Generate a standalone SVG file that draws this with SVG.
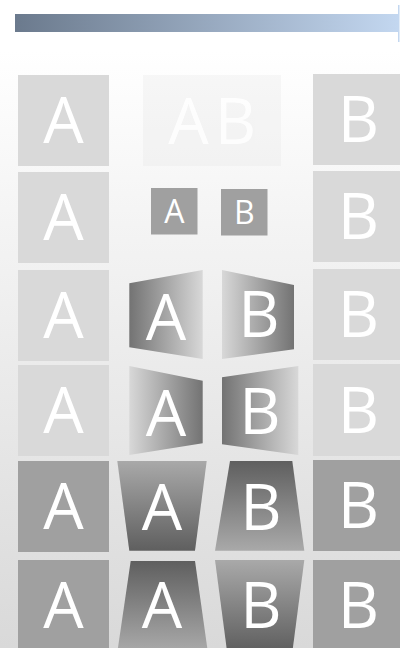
<svg xmlns="http://www.w3.org/2000/svg" width="400" height="648" viewBox="0 0 400 648">
<defs>
<linearGradient id="bg" x1="0" y1="0" x2="0" y2="1"><stop offset="0" stop-color="#ffffff"/><stop offset="0.08" stop-color="#ffffff"/><stop offset="1" stop-color="#d9d9d9"/></linearGradient>
<linearGradient id="bar" x1="0" y1="0" x2="1" y2="0"><stop offset="0" stop-color="#6b7a8d"/><stop offset="1" stop-color="#c3d7f0"/></linearGradient>
<linearGradient id="gLR" x1="0" y1="0" x2="1" y2="0"><stop offset="0" stop-color="#737373"/><stop offset="1" stop-color="#d8d8d8"/></linearGradient>
<linearGradient id="gRL" x1="0" y1="0" x2="1" y2="0"><stop offset="0" stop-color="#d8d8d8"/><stop offset="1" stop-color="#737373"/></linearGradient>
<linearGradient id="gTB" x1="0" y1="0" x2="0" y2="1"><stop offset="0" stop-color="#a9a9a9"/><stop offset="1" stop-color="#5f5f5f"/></linearGradient>
<linearGradient id="gBT" x1="0" y1="0" x2="0" y2="1"><stop offset="0" stop-color="#5f5f5f"/><stop offset="1" stop-color="#a9a9a9"/></linearGradient>
</defs>
<style>
.t{font-family:"Open Sans","Noto Sans","Liberation Sans",sans-serif;fill:#ffffff;text-anchor:middle;font-size:64px}
.s{font-size:32px}
.lt{fill:#d9d9d9}
.dk{fill:#a0a0a0}
</style>
<rect x="0" y="0" width="400" height="648" fill="url(#bg)"/>
<g id="title-bar">
<rect x="15" y="14" width="384" height="18" fill="url(#bar)"/>
<rect x="398" y="5" width="1.5" height="37" fill="#c3d7f0"/>
</g>
<g id="left-column">
<g id="A1"><rect class="lt" x="18" y="75" width="91" height="91"/><text class="t" x="63.5" y="143">A</text></g>
<g id="A2"><rect class="lt" x="18" y="172" width="91" height="91"/><text class="t" x="63.5" y="240">A</text></g>
<g id="A3"><rect class="lt" x="18" y="270" width="91" height="91"/><text class="t" x="63.5" y="338">A</text></g>
<g id="A4"><rect class="lt" x="18" y="365" width="91" height="91"/><text class="t" x="63.5" y="433">A</text></g>
<g id="A5"><rect class="dk" x="18" y="461" width="91" height="91"/><text class="t" x="63.5" y="529">A</text></g>
<g id="A6"><rect class="dk" x="18" y="560" width="91" height="91"/><text class="t" x="63.5" y="628">A</text></g>
</g>
<g id="right-column">
<g id="B1"><rect class="lt" x="313" y="74" width="91" height="91"/><text class="t" x="358.5" y="142">B</text></g>
<g id="B2"><rect class="lt" x="313" y="171" width="91" height="91"/><text class="t" x="358.5" y="239">B</text></g>
<g id="B3"><rect class="lt" x="313" y="269" width="91" height="91"/><text class="t" x="358.5" y="337">B</text></g>
<g id="B4"><rect class="lt" x="313" y="364" width="91" height="92"/><text class="t" x="358.5" y="433">B</text></g>
<g id="B5"><rect class="dk" x="313" y="460" width="91" height="91"/><text class="t" x="358.5" y="528">B</text></g>
<g id="B6"><rect class="dk" x="313" y="560" width="91" height="91"/><text class="t" x="358.5" y="628">B</text></g>
</g>
<g id="faded-AB" opacity="0.18">
<g id="fA"><rect class="lt" x="143" y="75" width="91" height="91"/></g>
<g id="fB"><rect class="lt" x="190" y="75" width="91" height="91"/></g>
</g>
<text class="t" x="188.5" y="144" opacity="0.9">A</text>
<text class="t" x="235.5" y="144" opacity="0.9">B</text>
<g id="small-A"><rect class="dk" x="151" y="188" width="46.5" height="46.5"/><text class="t s" x="174.3" y="223">A</text></g>
<g id="small-B"><rect class="dk" x="221" y="189" width="46.5" height="46.5"/><text class="t s" x="244.3" y="224">B</text></g>
<g id="persp-A3"><polygon points="129.3,283.3 202.7,270 202.7,359 129.3,347.3" fill="url(#gLR)"/><text class="t" x="166" y="340">A</text></g>
<g id="persp-B3"><polygon points="222,270 294,285 294,349.3 222,359" fill="url(#gRL)"/><text class="t" x="259" y="337">B</text></g>
<g id="persp-A4"><polygon points="129.3,366 202.7,380.7 202.7,443.3 129.3,455" fill="url(#gRL)"/><text class="t" x="166" y="436">A</text></g>
<g id="persp-B4"><polygon points="222,377.3 298.3,366 298.3,455 222,444.3" fill="url(#gLR)"/><text class="t" x="260" y="434">B</text></g>
<g id="persp-A5"><polygon points="117.3,461 206.7,461 195,550.7 129.3,550.7" fill="url(#gTB)"/><text class="t" x="162" y="530">A</text></g>
<g id="persp-B5"><polygon points="230,461 292.3,461 304.3,550.7 215,550.7" fill="url(#gBT)"/><text class="t" x="261" y="530">B</text></g>
<g id="persp-A6"><polygon points="130.7,561 195,561 207.7,651 117.5,651" fill="url(#gBT)"/><text class="t" x="162" y="628">A</text></g>
<g id="persp-B6"><polygon points="215,560 304.3,560 292.5,651 227,651" fill="url(#gTB)"/><text class="t" x="261" y="628">B</text></g>
</svg>
